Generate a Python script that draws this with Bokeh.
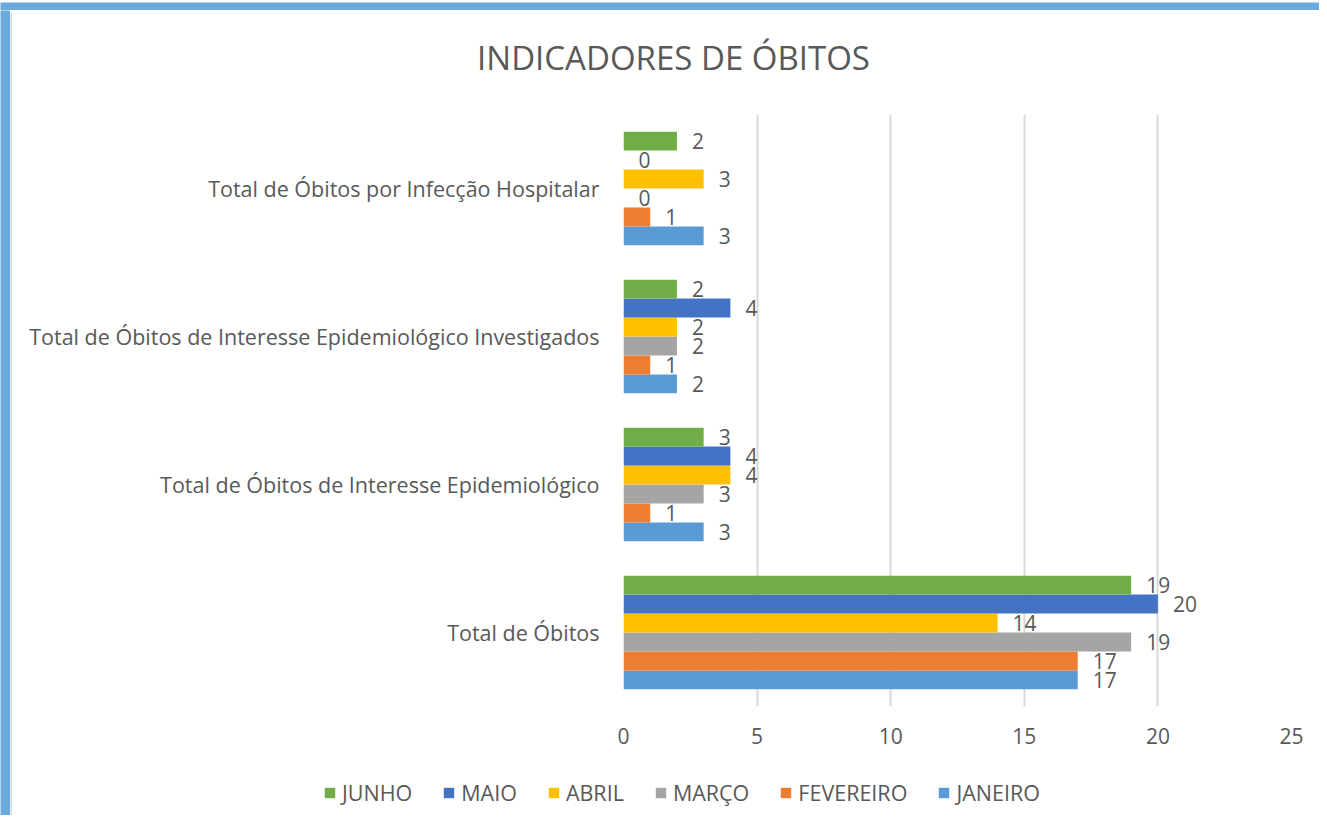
from bokeh.plotting import figure
from bokeh.models import ColumnDataSource, FactorRange, Range1d, FixedTicker, Legend, LegendItem, Label
from bokeh.transform import dodge
from bokeh.layouts import column, row
from bokeh.core.properties import value
from bokeh.embed import file_html
from bokeh.resources import INLINE

categories = [
    "Total de Óbitos",
    "Total de Óbitos de Interesse Epidemiológico",
    "Total de Óbitos de Interesse Epidemiológico Investigados",
    "Total de Óbitos por Infecção Hospitalar",
]
months = ["JANEIRO", "FEVEREIRO", "MARÇO", "ABRIL", "MAIO", "JUNHO"]
janeiro = [17, 3, 2, 3]
fevereiro = [17, 1, 1, 1]
marco = [19, 3, 2, 0]
abril = [14, 4, 2, 3]
maio = [20, 4, 4, 0]
junho = [19, 3, 2, 2]
x_ticks = [0, 5, 10, 15, 20, 25]
title_text = "INDICADORES DE ÓBITOS"

series = [janeiro, fevereiro, marco, abril, maio, junho]
colors = ["#5B9BD5", "#ED7D31", "#A5A5A5", "#FFC000", "#4472C4", "#70AD47"]
TXT = "#595959"
FONT = "Open Sans"
BLUE = "#6BAADB"
GRAY = "#D9D9D9"


def no_align(fig):
    if hasattr(fig, "frame_align"):
        fig.frame_align = False


def blank(w, h, fill):
    s = figure(width=w, height=h, x_axis_type=None, y_axis_type=None, title=None,
               x_range=Range1d(0, 1), y_range=Range1d(0, 1),
               output_backend="svg", toolbar_location=None, min_border=0)
    s.outline_line_color = None
    s.background_fill_color = fill
    s.border_fill_color = fill
    s.xgrid.visible = False
    s.ygrid.visible = False
    no_align(s)
    return s


# ---- title strip ----
tf = blank(1307, 98, "white")
tf.add_layout(Label(x=661, y=53, x_units="screen", y_units="screen", text=title_text,
                    text_align="center", text_baseline="middle", text_font=FONT,
                    text_font_size="33px", text_color=TXT))

# ---- main chart ----
p = figure(
    width=1307, height=651, title=None,
    y_range=FactorRange(factors=categories, range_padding=0),
    x_range=Range1d(0, 25),
    output_backend="svg", toolbar_location=None,
    min_border_left=611, min_border_right=28, min_border_top=4, min_border_bottom=55,
)
no_align(p)
p.outline_line_color = None
p.background_fill_color = "white"
p.border_fill_color = "white"

bar_h = 0.128
for i, (m, vals, c) in enumerate(zip(months, series, colors)):
    src = ColumnDataSource(dict(cat=categories, val=vals, lbl=[str(v) for v in vals]))
    off = (i - 2.5) * bar_h
    p.hbar(y=dodge("cat", off, range=p.y_range), right="val", left=0, height=bar_h,
           color=c, line_color=None, source=src)
    p.text(x="val", y=dodge("cat", off, range=p.y_range), text="lbl", source=src,
           x_offset=15, text_align="left", text_baseline="middle",
           text_font_size="21px", text_color=TXT, text_font=value(FONT))

p.xaxis.ticker = FixedTicker(ticks=x_ticks)
p.xgrid.grid_line_color = GRAY
p.xgrid.grid_line_width = 2
p.ygrid.grid_line_color = None
for ax in (p.xaxis, p.yaxis):
    ax.axis_line_color = None
    ax.major_tick_line_color = None
    ax.minor_tick_line_color = None
    ax.major_label_text_color = TXT
    ax.major_label_text_font = FONT
p.xaxis.major_label_text_font_size = "21px"
p.yaxis.major_label_text_font_size = "21.5px"
p.xaxis.major_label_standoff = 15
p.yaxis.major_label_standoff = 18

# ---- legend strip ----
lf = blank(1307, 54, "white")
leg_renderers = []
for m, c in zip(months, colors):
    r = lf.hbar(y=[-10], right=[1], left=0, height=0.1, color=c, line_color=None)
    leg_renderers.append((m, r))
items = [LegendItem(label=m, renderers=[r]) for m, r in reversed(leg_renderers)]
legend = Legend(items=items, orientation="horizontal", location=(311, 8),
                padding=0, margin=0, spacing=30, glyph_width=13, glyph_height=13,
                label_standoff=6, border_line_color=None, background_fill_alpha=0,
                label_text_font=FONT, label_text_font_size="21.5px", label_text_color=TXT)
lf.add_layout(legend, "center")

top = blank(1319, 10, BLUE)
left = blank(10, 805, BLUE)
top_gray = blank(1309, 2, GRAY)
left_gray = blank(2, 803, GRAY)
inner = column(tf, p, lf, spacing=0)
layout = column(top, row(left, column(top_gray, row(left_gray, inner, spacing=0), spacing=0),
                         spacing=0), spacing=0)

open("out.html", "w").write(file_html(layout, INLINE))
